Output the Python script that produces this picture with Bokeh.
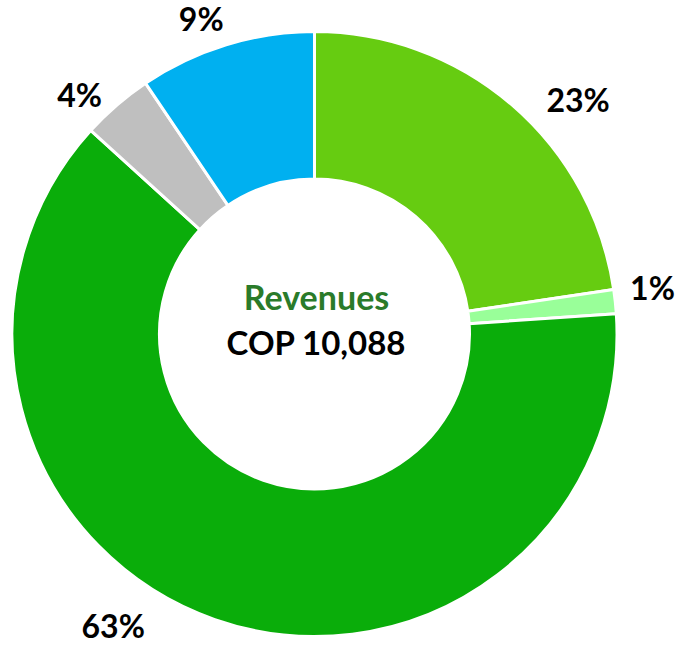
import math
from bokeh.plotting import figure
from bokeh.models import Range1d, ColumnDataSource
from bokeh.core.properties import value
from bokeh.embed import file_html
from bokeh.resources import INLINE

# ---- data ----
segments = ["Segment A", "Segment B", "Segment C", "Segment D", "Segment E"]
revenues = [2285, 130, 6336, 385, 952]          # COP, total 10,088
colors = ["#66CC11", "#99FF99", "#0AAD0A", "#BFBFBF", "#00B0F0"]
center_title = "Revenues"
center_total = "COP 10,088"

# ---- layout ----
W, H = 679, 647
cx, cy = 314, 313.5
r_out, r_in = 302.5, 155
label_r = 350
label_nudge = [(35, -31), (-10, 9), (-86, 39), (-6, -25), (-11, -19)]

total = sum(revenues)
fracs = [v / total for v in revenues]
starts, ends, lx, ly, labels = [], [], [], [], []
cum = 0.0
for i, f in enumerate(fracs):
    a0 = math.pi / 2 - cum * 2 * math.pi
    a1 = math.pi / 2 - (cum + f) * 2 * math.pi
    starts.append(a0)
    ends.append(a1)
    mid = (cum + f / 2) * 2 * math.pi
    lx.append(cx + label_r * math.sin(mid) + label_nudge[i][0])
    ly.append(cy + label_r * math.cos(mid) + label_nudge[i][1])
    labels.append(f"{round(f * 100)}%")
    cum += f

src = ColumnDataSource(dict(start=starts, end=ends, color=colors, seg=segments))
lsrc = ColumnDataSource(dict(x=lx, y=ly, text=labels))

p = figure(width=W, height=H, x_range=Range1d(0, W), y_range=Range1d(0, H),
           output_backend="svg", toolbar_location=None, min_border=0)
p.axis.visible = False
p.grid.visible = False
p.outline_line_color = None
p.background_fill_color = "white"

p.annular_wedge(x=cx, y=cy, inner_radius=r_in, outer_radius=r_out,
                start_angle="start", end_angle="end", direction="clock",
                fill_color="color", line_color="white", line_width=3, source=src)

p.text(x="x", y="y", text="text", source=lsrc, text_font=value("Lato"),
       text_font_style="bold", text_font_size="32px", text_color="black",
       text_align="center", text_baseline="middle")

p.text(x=[cx + 2], y=[cy + 38], text=[center_title], text_font=value("Lato"),
       text_font_style="bold", text_font_size="34px", text_color="#2A7B2A",
       text_align="center", text_baseline="middle")
p.text(x=[cx + 2], y=[cy - 8], text=[center_total], text_font=value("Lato"),
       text_font_style="bold", text_font_size="33px", text_color="black",
       text_align="center", text_baseline="middle")

open("out.html", "w").write(file_html(p, INLINE))
